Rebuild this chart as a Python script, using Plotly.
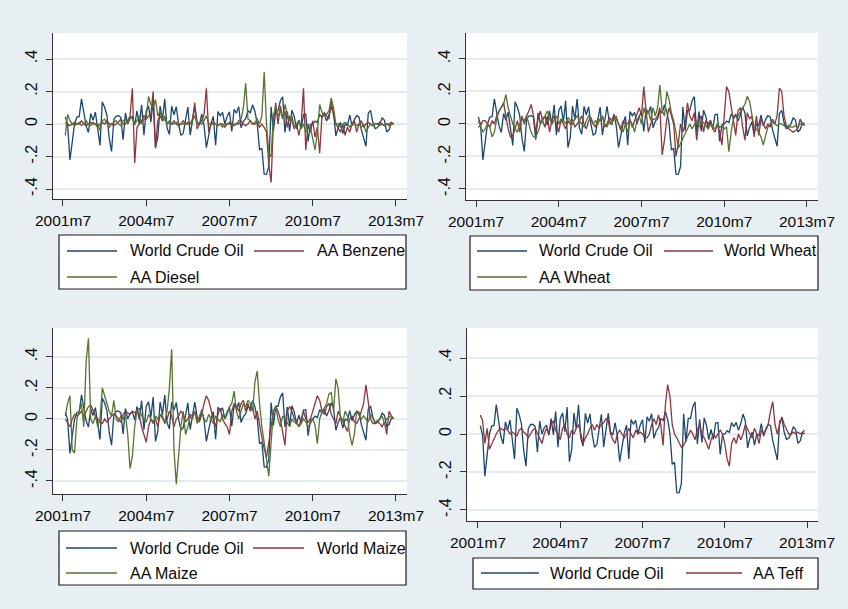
import plotly.graph_objects as go

# ---------------- data (monthly changes, 2001m8 .. 2013m6) ----------------
month_index = list(range(1, 144))          # months after 2001m7
x_tick_vals = [0, 36, 72, 108, 144]
x_tick_text = ["2001m7", "2004m7", "2007m7", "2010m7", "2013m7"]
y_tick_vals = [-0.4, -0.2, 0, 0.2, 0.4]
y_tick_text = ["-.4", "-.2", "0", ".2", ".4"]

world_crude_oil = [
    0.044, -0.004, -0.222, -0.097, 0.000,
    0.042, 0.045, 0.155, 0.081, -0.012, -0.052, 0.064, 0.023, 0.073, -0.029, -0.132, 0.136,
    0.103, 0.054, -0.087, -0.169, 0.028, 0.049, 0.051, 0.041, -0.096, 0.068, 0.000, 0.034,
    0.046, -0.006, 0.081, -0.003, 0.118, -0.069, 0.082, 0.111, 0.012, 0.142, -0.145, -0.082,
    0.110, 0.027, 0.154, -0.023, -0.064, 0.109, 0.057, 0.106, -0.002, -0.070, -0.057, 0.025,
    0.104, -0.068, 0.020, 0.109, 0.012, -0.006, 0.060, -0.010, -0.145, -0.070, 0.003, 0.047,
    -0.131, 0.076, 0.051, 0.072, 0.000, 0.047, 0.075, -0.046, 0.091, 0.067, 0.107, -0.023,
    0.016, 0.033, 0.082, 0.069, 0.118, 0.077, 0.002, -0.160, -0.149, -0.309, -0.310, -0.262,
    0.106, -0.041, 0.082, 0.082, 0.143, 0.168, -0.052, 0.077, -0.045, 0.085, 0.046, -0.030,
    0.024, -0.029, 0.058, 0.060, -0.107, -0.003, 0.000, 0.018, 0.009, 0.060, 0.039, 0.061,
    0.019, 0.055, 0.105, 0.068, -0.073, -0.021, 0.010, -0.059, -0.001, -0.009, 0.054, -0.011,
    0.027, 0.051, 0.044, -0.035, -0.089, -0.137, 0.065, 0.084, 0.009, -0.028, -0.022, 0.000,
    0.038, 0.023, -0.049, -0.036, 0.005, 0.003,
]

aa_benzene = [
    0.01, 0.0, -0.01, 0.0, 0.01,
    0.0, 0.0, 0.02, 0.0, -0.01, 0.0, 0.01, 0.0, 0.0, -0.02, 0.0, 0.01,
    0.0, 0.02, 0.0, 0.0, -0.01, 0.0, 0.01, 0.03, 0.0, 0.0, 0.02, 0.05,
    0.22, -0.24, -0.02, 0.0, 0.02, 0.05, 0.03, 0.05, 0.06, 0.20, -0.15, 0.02,
    0.05, 0.02, 0.03, 0.0, 0.01, 0.0, 0.02, 0.0, -0.01, 0.0, 0.02, 0.0,
    0.01, 0.0, 0.03, 0.13, -0.03, 0.0, 0.02, 0.06, 0.22, -0.05, 0.0, 0.01,
    0.0, -0.01, 0.0, 0.0, -0.02, 0.0, 0.01, 0.0, -0.01, 0.0, 0.0, 0.02,
    0.0, -0.01, 0.0, 0.02, 0.0, 0.0, 0.01, -0.02, 0.0, -0.02, -0.05, -0.25,
    -0.36, 0.02, 0.13, 0.0, 0.11, 0.04, 0.08, -0.02, 0.05, 0.02, -0.03, 0.0,
    -0.07, 0.0, 0.22, -0.16, 0.0, -0.05, 0.02, -0.08, -0.02, -0.18, 0.05, 0.07,
    0.05, 0.03, 0.14, 0.05, 0.0, -0.03, -0.05, 0.0, -0.07, -0.02, -0.05, 0.0,
    0.02, -0.05, 0.0, 0.02, -0.02, 0.0, 0.01, 0.0, -0.01, 0.0, 0.0, 0.01,
    0.0, -0.01, 0.0, 0.0, 0.01, 0.0,
]

aa_diesel = [
    -0.07, 0.06, 0.02, 0.0, -0.01,
    0.0, 0.01, -0.01, 0.0, 0.02, 0.0, -0.01, 0.01, 0.0, 0.0, -0.04, 0.02,
    0.03, 0.0, -0.02, 0.0, 0.01, 0.02, 0.0, -0.01, 0.02, 0.03, 0.0, 0.05,
    0.03, 0.0, 0.02, 0.05, 0.0, 0.03, 0.04, 0.17, 0.12, 0.10, 0.15, 0.05,
    0.08, 0.02, 0.05, 0.0, 0.02, 0.0, 0.0, 0.01, 0.0, 0.0, 0.0, 0.0,
    0.0, 0.0, 0.02, 0.05, 0.0, 0.01, 0.0, 0.02, 0.05, 0.0, 0.0, 0.0,
    0.0, -0.01, 0.0, -0.02, 0.0, 0.0, 0.0, -0.01, 0.0, 0.0, 0.02, 0.03,
    0.10, 0.25, 0.03, 0.02, 0.0, 0.01, 0.03, 0.0, 0.05, 0.32, 0.0, -0.18,
    -0.20, 0.05, 0.10, 0.05, 0.08, 0.03, 0.12, 0.06, 0.02, 0.05, -0.02, 0.0,
    0.02, -0.03, 0.0, -0.05, -0.03, -0.02, -0.08, -0.16, -0.05, 0.12, 0.07, 0.05,
    0.06, 0.08, 0.16, 0.10, 0.0, 0.0, -0.02, 0.0, 0.01, 0.0, -0.02, 0.0,
    0.0, -0.01, 0.0, -0.02, 0.0, -0.05, -0.02, 0.0, -0.01, 0.0, 0.0, -0.01,
    0.0, -0.01, 0.0, -0.01, 0.0, 0.0,
]

world_wheat = [
    -0.02, -0.01, 0.02, 0.02, 0.0,
    -0.02, 0.02, 0.0, 0.05, 0.08, 0.11, 0.13, 0.05, -0.03, -0.08, -0.07, -0.03,
    0.02, -0.05, 0.05, 0.0, 0.05, 0.08, 0.12, 0.05, -0.05, 0.03, 0.08, 0.02,
    -0.02, 0.05, -0.05, 0.02, 0.05, 0.0, -0.05, 0.03, 0.0, -0.03, 0.02, 0.0,
    0.03, -0.02, 0.0, 0.02, 0.05, 0.0, -0.03, 0.02, 0.04, 0.0, -0.02, 0.03,
    0.02, 0.05, -0.02, 0.0, 0.04, 0.02, 0.05, 0.03, 0.0, -0.04, 0.02, 0.0,
    0.0, 0.03, -0.02, 0.02, 0.05, 0.10, 0.05, 0.23, 0.08, -0.05, 0.0, 0.03,
    0.03, 0.05, 0.10, -0.19, -0.10, 0.03, 0.10, 0.05, 0.0, -0.20, -0.12, 0.0,
    -0.05, 0.0, 0.13, 0.05, 0.02, 0.07, -0.10, 0.02, 0.05, -0.05, 0.02, 0.0,
    0.02, -0.03, -0.05, 0.0, -0.05, -0.13, 0.05, 0.23, 0.20, 0.10, 0.02, -0.07,
    0.08, 0.10, -0.02, -0.10, 0.07, 0.03, 0.05, -0.08, 0.05, -0.07, 0.03, 0.0,
    -0.03, 0.0, -0.02, 0.03, 0.0, 0.05, 0.22, 0.20, 0.05, -0.01, -0.03, -0.04,
    -0.05, -0.04, -0.03, 0.03, 0.0, -0.01,
]

aa_wheat = [
    0.02, -0.02, -0.05, -0.03, 0.0,
    -0.02, -0.08, -0.05, 0.03, 0.08, 0.10, 0.12, 0.18, 0.10, 0.05, 0.0, -0.03,
    -0.05, 0.0, 0.03, 0.02, 0.05, 0.0, -0.05, -0.08, -0.08, -0.05, 0.0, 0.02,
    0.05, 0.08, 0.03, 0.0, 0.02, 0.05, 0.0, 0.03, 0.02, 0.0, 0.04, 0.02,
    0.0, 0.03, 0.05, 0.02, 0.0, -0.02, 0.02, 0.05, 0.03, 0.0, 0.02, 0.0,
    0.03, 0.05, 0.0, -0.02, 0.02, 0.0, 0.03, 0.05, 0.0, -0.02, -0.05, 0.0,
    -0.05, 0.02, 0.0, -0.05, 0.02, 0.05, 0.0, 0.10, 0.05, 0.08, 0.02, 0.10,
    0.05, 0.10, 0.24, 0.08, 0.05, 0.20, 0.15, 0.07, 0.02, -0.05, -0.15, -0.12,
    -0.08, -0.05, -0.02, 0.0, -0.03, 0.0, 0.02, -0.02, 0.0, 0.01, -0.01, -0.03,
    0.0, -0.02, -0.03, 0.0, -0.02, -0.01, -0.03, -0.02, -0.17, -0.05, 0.03, 0.05,
    0.05, 0.08, 0.10, 0.12, 0.17, 0.14, 0.05, -0.02, -0.03, -0.05, -0.08, -0.13,
    -0.07, -0.02, 0.0, 0.01, 0.0, -0.01, 0.0, 0.0, -0.01, -0.02, -0.01, -0.02,
    -0.02, -0.01, -0.02, 0.0, 0.0, 0.0,
]

world_maize = [
    0.0, -0.03, -0.05, 0.0, 0.03,
    0.02, 0.03, 0.05, 0.02, 0.05, 0.08, 0.09, 0.05, 0.02, 0.0, -0.02, -0.03,
    0.0, -0.02, 0.0, 0.02, 0.03, 0.02, 0.0, -0.02, 0.03, 0.05, 0.04, 0.03,
    0.05, 0.04, 0.05, 0.02, -0.05, -0.10, -0.15, -0.05, 0.0, -0.02, 0.0, -0.05,
    0.03, 0.02, -0.03, 0.0, 0.05, 0.02, -0.05, 0.0, 0.02, 0.05, 0.03, -0.02,
    0.0, 0.03, 0.02, 0.05, 0.0, -0.02, 0.03, 0.10, 0.15, 0.12, 0.05, 0.0,
    -0.05, 0.03, 0.07, 0.0, -0.03, -0.05, -0.10, 0.05, 0.10, 0.08, 0.05, 0.10,
    0.12, 0.05, 0.10, 0.05, 0.08, 0.0, 0.05, -0.05, -0.12, -0.19, -0.25, -0.15,
    -0.05, 0.05, 0.08, 0.05, 0.0, -0.10, -0.17, 0.05, 0.08, 0.05, 0.0, -0.02,
    -0.05, 0.0, 0.05, 0.0, -0.02, 0.0, 0.05, 0.10, 0.15, 0.12, 0.05, 0.03,
    0.08, 0.10, 0.03, 0.0, -0.03, 0.05, 0.02, -0.02, -0.05, -0.08, 0.0, 0.02,
    -0.02, -0.03, 0.0, 0.05, 0.10, 0.22, 0.10, 0.0, -0.03, -0.03, -0.02, -0.03,
    -0.05, -0.02, -0.10, 0.05, 0.02, 0.0,
]

aa_maize = [
    0.02, 0.10, 0.15, -0.20, -0.22,
    0.0, 0.05, 0.10, -0.05, 0.37, 0.52, 0.0, -0.03, 0.02, -0.05, 0.0, 0.20,
    0.15, 0.10, 0.05, 0.02, 0.12, 0.0, -0.02, 0.02, 0.0, 0.03, -0.10, -0.32,
    -0.24, -0.05, 0.05, 0.07, 0.02, 0.0, -0.02, 0.03, 0.0, -0.03, 0.02, 0.0,
    0.03, 0.0, -0.02, 0.05, 0.20, 0.45, -0.20, -0.42, -0.20, -0.05, 0.05, -0.10,
    -0.05, 0.02, 0.0, 0.05, -0.03, 0.02, 0.05, 0.0, -0.02, 0.03, 0.0, -0.03,
    0.02, 0.0, -0.02, 0.03, 0.0, 0.03, 0.08, 0.10, 0.18, 0.05, 0.0, 0.05,
    0.10, 0.08, 0.12, 0.10, 0.05, 0.24, 0.31, 0.10, -0.05, -0.15, -0.25, -0.37,
    -0.15, 0.05, 0.08, 0.0, -0.05, 0.02, 0.0, -0.03, -0.05, 0.0, -0.02, -0.03,
    -0.05, -0.03, 0.0, -0.02, -0.05, -0.03, 0.0, -0.04, -0.16, 0.0, 0.05, 0.07,
    0.10, 0.16, 0.17, 0.05, 0.26, 0.20, 0.0, -0.02, 0.05, 0.02, -0.10, -0.17,
    -0.10, 0.05, 0.02, 0.0, 0.02, 0.0, -0.02, 0.03, 0.0, -0.02, -0.01, 0.0,
    0.02, -0.03, 0.0, 0.01, 0.02, 0.0,
]

aa_teff = [
    0.10, 0.07, -0.05, 0.03, -0.08,
    -0.05, -0.03, 0.0, 0.02, 0.03, 0.02, 0.03, 0.02, 0.0, 0.01, 0.0, -0.01,
    0.02, 0.03, 0.01, 0.0, -0.02, 0.0, 0.02, 0.03, 0.0, -0.03, -0.05, 0.0,
    0.03, 0.0, 0.05, 0.07, 0.02, 0.0, -0.03, 0.03, 0.05, 0.0, -0.02, 0.02,
    0.0, 0.03, 0.05, 0.0, -0.05, -0.02, 0.0, 0.03, 0.05, 0.02, 0.05, 0.03,
    0.05, 0.06, 0.08, 0.07, 0.0, -0.03, -0.05, 0.0, 0.02, 0.0, -0.02, 0.0,
    0.03, 0.0, -0.02, 0.02, 0.0, 0.01, 0.0, -0.02, -0.02, 0.0, 0.05, 0.08,
    0.05, 0.10, 0.05, -0.06, 0.15, 0.26, 0.20, 0.05, 0.0, -0.02, -0.05, -0.07,
    -0.06, -0.03, 0.0, 0.02, 0.0, -0.03, 0.02, 0.05, 0.0, -0.02, -0.05, -0.08,
    -0.03, 0.0, -0.02, 0.0, 0.02, 0.0, -0.05, -0.13, -0.17, -0.05, -0.02, -0.05,
    0.0, -0.03, 0.0, 0.05, 0.02, 0.0, -0.02, 0.03, 0.0, -0.05, 0.02, 0.0,
    0.02, 0.05, 0.12, 0.17, 0.05, 0.0, 0.05, 0.09, 0.05, 0.02, 0.0, 0.0,
    0.01, 0.0, 0.01, 0.0, 0.01, 0.02,
]

# ---------------- styling ----------------
# The page body keeps an 8px margin, so the figure is sized to the rest of
# the 848x609 window and page pixels are converted with that offset.
OFF = 8
W, H = 848 - OFF, 609 - OFF
NAVY, MAROON, GREEN = "#1a476f", "#90353b", "#55752f"
BG = "#e8eff2"
FONT = "Liberation Sans, Arial, sans-serif"


def fx(px):
    return (px - OFF) / W


def fy(py):
    return 1 - (py - OFF) / H


# panel boxes in page pixels: (left, right, top, bottom), x-range, y-range
panels = [
    dict(box=(53, 407, 33, 199), xr=[-4.32, 148.76], yr=[-0.4615, 0.56],
         series=[("World Crude Oil", world_crude_oil, NAVY),
                 ("AA Benzene", aa_benzene, MAROON),
                 ("AA Diesel", aa_diesel, GREEN)]),
    dict(box=(466, 818, 33, 200), xr=[-4.35, 148.79], yr=[-0.468, 0.56],
         series=[("World Crude Oil", world_crude_oil, NAVY),
                 ("World Wheat", world_wheat, MAROON),
                 ("AA Wheat", aa_wheat, GREEN)]),
    dict(box=(53, 407, 328, 494), xr=[-4.32, 148.76], yr=[-0.484, 0.587],
         series=[("World Crude Oil", world_crude_oil, NAVY),
                 ("World Maize", world_maize, MAROON),
                 ("AA Maize", aa_maize, GREEN)]),
    dict(box=(467, 818, 328, 521), xr=[-4.81, 148.8], yr=[-0.458, 0.558],
         series=[("World Crude Oil", world_crude_oil, NAVY),
                 ("AA Teff", aa_teff, MAROON)]),
]

fig = go.Figure()
layout_axes = {}
for i, p in enumerate(panels, start=1):
    sfx = "" if i == 1 else str(i)
    l, r, t, b = p["box"]
    for name, vals, col in p["series"]:
        fig.add_trace(go.Scatter(
            x=month_index, y=vals, mode="lines", name=name,
            line=dict(color=col, width=1.3), showlegend=False,
            xaxis="x" + sfx, yaxis="y" + sfx))
    layout_axes["xaxis" + sfx] = dict(
        domain=[fx(l), fx(r)], range=p["xr"], anchor="y" + sfx,
        automargin=False,
        tickvals=x_tick_vals, ticktext=x_tick_text, ticks="outside",
        ticklen=6, tickwidth=1, tickcolor="#333", showline=True,
        linecolor="#333", linewidth=1, showgrid=False, zeroline=False,
        tickfont=dict(family=FONT, size=15.5, color="#0a0a0a"),
        ticklabelstandoff=1)
    layout_axes["yaxis" + sfx] = dict(
        domain=[fy(b), fy(t)], range=p["yr"], anchor="x" + sfx,
        automargin=False,
        tickvals=y_tick_vals, ticktext=y_tick_text, ticks="outside",
        ticklen=6, tickwidth=1, tickcolor="#333", showline=True,
        linecolor="#333", linewidth=1, showgrid=True,
        gridcolor="#e3ecef", gridwidth=1.5, zeroline=False,
        tickangle=-90, tickfont=dict(family=FONT, size=16, color="#0a0a0a"),
        ticklabelstandoff=3)

# ---------------- legends (boxes drawn below each panel) ----------------
legends = [
    dict(box=(59, 406, 235, 289),
         items=[(67, 117, 128, 251, "World Crude Oil", NAVY),
                (254, 304, 315, 251, "AA Benzene", MAROON),
                (67, 117, 128, 277, "AA Diesel", GREEN)]),
    dict(box=(470, 818, 236, 290),
         items=[(477, 527, 537, 251, "World Crude Oil", NAVY),
                (664, 713, 722, 251, "World Wheat", MAROON),
                (477, 527, 537, 277, "AA Wheat", GREEN)]),
    dict(box=(59, 406, 531, 585),
         items=[(66, 117, 128, 548, "World Crude Oil", NAVY),
                (253, 304, 315, 548, "World Maize", MAROON),
                (66, 117, 128, 573, "AA Maize", GREEN)]),
    dict(box=(473, 818, 558, 589),
         items=[(481, 539, 548, 573, "World Crude Oil", NAVY),
                (686, 742, 751, 573, "AA Teff", MAROON)]),
]

shapes = []
annotations = []
for lg in legends:
    l, r, t, b = lg["box"]
    shapes.append(dict(type="rect", xref="paper", yref="paper",
                       x0=fx(l), x1=fx(r), y0=fy(b), y1=fy(t),
                       line=dict(color="#1a1a1a", width=1.2),
                       fillcolor="white", layer="below"))
    for x0, x1, xt, yy, label, col in lg["items"]:
        shapes.append(dict(type="line", xref="paper", yref="paper",
                           x0=fx(x0), x1=fx(x1), y0=fy(yy), y1=fy(yy),
                           line=dict(color=col, width=1.4)))
        annotations.append(dict(text=label, xref="paper", yref="paper",
                                x=fx(xt), y=fy(yy), xanchor="left",
                                yanchor="middle", showarrow=False,
                                font=dict(family=FONT, size=16, color="#0a0a0a")))

fig.update_layout(
    width=W, height=H,
    margin=dict(l=0, r=0, t=0, b=0, pad=0, autoexpand=False),
    paper_bgcolor=BG, plot_bgcolor="white", showlegend=False,
    shapes=shapes, annotations=annotations, **layout_axes)

fig.write_html("out.html",
               post_script="document.body.style.background='#e8eff2';")
